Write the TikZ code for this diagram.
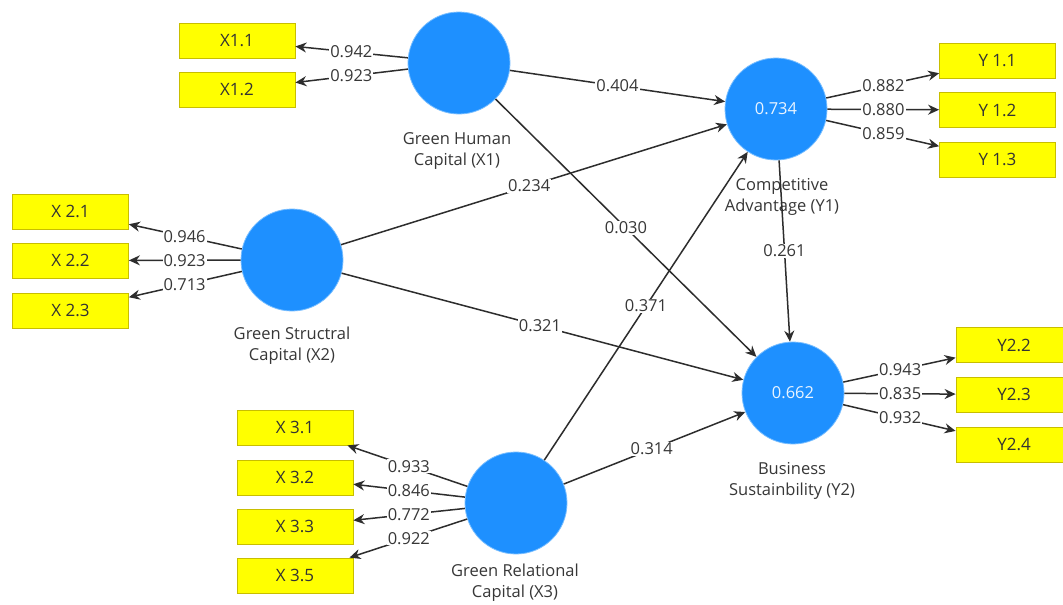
\documentclass[tikz,border=0pt]{standalone}
\usepackage{fontspec}
\setmainfont{Open Sans}
\usetikzlibrary{calc,arrows.meta}
\definecolor{lvblue}{RGB}{30,144,255}
\definecolor{lvedge}{RGB}{120,190,255}
\definecolor{mvfill}{RGB}{255,255,0}
\definecolor{mvedge}{RGB}{200,190,0}
\definecolor{linecol}{RGB}{45,45,45}
\definecolor{txtcol}{RGB}{55,55,55}
\begin{document}
\begin{tikzpicture}[x=1pt,y=-1pt,
  lv/.style={circle, fill=lvblue, draw=lvedge, line width=0.8pt, minimum size=102pt, inner sep=0pt, text=white!90!lvblue, font=\fontsize{16.5}{16.5}\selectfont},
  mv/.style={rectangle, fill=mvfill, draw=mvedge, line width=0.8pt, minimum width=116pt, minimum height=35pt, inner sep=0pt, text=black!80, font=\fontsize{17}{17}\selectfont},
  conn/.style={draw=linecol, line width=1.5pt, -{Stealth[length=11pt,width=10pt]}},
  coef/.style={fill=white, inner sep=1pt, text=txtcol, font=\fontsize{16.5}{16.5}\selectfont},
  caption/.style={align=center, text=txtcol, font=\fontsize{16.5}{21}\selectfont}
]
\useasboundingbox (0,0) rectangle (1063,605);
\fill[white] (0,0) rectangle (1063,605);

% latent variables
\node[lv] (X1) at (459,63) {};
\node[lv] (Y1) at (776,109) {0.734};
\node[lv] (X2) at (292,260) {};
\node[lv] (X3) at (516,503) {};
\node[lv] (Y2) at (793,393) {0.662};

% indicators
\node[mv] (X11) at (237,40.5) {X1.1};
\node[mv] (X12) at (237,89.5) {X1.2};
\node[mv] (Y11) at (997.5,60.5) {Y 1.1};
\node[mv] (Y12) at (997.5,110) {Y 1.2};
\node[mv] (Y13) at (997.5,159.5) {Y 1.3};
\node[mv] (X21) at (70.5,211.5) {X 2.1};
\node[mv] (X22) at (70.5,260.5) {X 2.2};
\node[mv] (X23) at (70.5,310.5) {X 2.3};
\node[mv] (X31) at (295,427.5) {X 3.1};
\node[mv] (X32) at (295,477.5) {X 3.2};
\node[mv] (X33) at (295,526.5) {X 3.3};
\node[mv] (X35) at (295,575.5) {X 3.5};
\node[mv] (Y22) at (1014,345) {Y2.2};
\node[mv] (Y23) at (1014,394.5) {Y2.3};
\node[mv] (Y24) at (1014,444.5) {Y2.4};

% captions
\node[caption] (cX1) at (457,151) {Green Human\\Capital (X1)};
\node[caption] (cY1) at (782,197) {Competitive\\Advantage (Y1)};
\node[caption] (cX2) at (292,346) {Green Structral\\Capital (X2)};
\node[caption] (cX3) at (515,583) {Green Relational\\Capital (X3)};
\node[caption] (cY2) at (792,481) {Business\\Sustainbility (Y2)};

% structural paths
\draw[conn] (X1) -- (Y1);
\draw[conn] (X2) -- (Y1);
\draw[conn] (X1) -- (Y2);
\draw[conn] (X2) -- (Y2);
\draw[conn] (X3) -- (Y1);
\draw[conn] (X3) -- (Y2);
\draw[conn] (Y1) -- (Y2);
\node[coef] at ($(X1)!0.50!(Y1)$) {0.404};
\node[coef] at ($(X2)!0.49!(Y1)$) {0.234};
\node[coef] at ($(X1)!0.50!(Y2)$) {0.030};
\node[coef] at ($(X2)!0.495!(Y2)$) {0.321};
\node[coef] at ($(X3)!0.50!(Y1)$) {0.371};
\node[coef] at ($(X3)!0.49!(Y2)$) {0.314};
\node[coef] at ($(Y1)!0.50!(Y2)$) {0.261};

% measurement paths
\foreach \a/\b/\v in {X1/X11/0.942, X1/X12/0.923,
  Y1/Y11/0.882, Y1/Y12/0.880, Y1/Y13/0.859,
  X2/X21/0.946, X2/X22/0.923, X2/X23/0.713,
  X3/X31/0.933, X3/X32/0.846, X3/X33/0.772, X3/X35/0.922,
  Y2/Y22/0.943, Y2/Y23/0.835, Y2/Y24/0.932}{
  \draw[conn] (\a) -- (\b);
  \node[coef] at ($(\a)!0.485!(\b)$) {\v};
}
\end{tikzpicture}
\end{document}
